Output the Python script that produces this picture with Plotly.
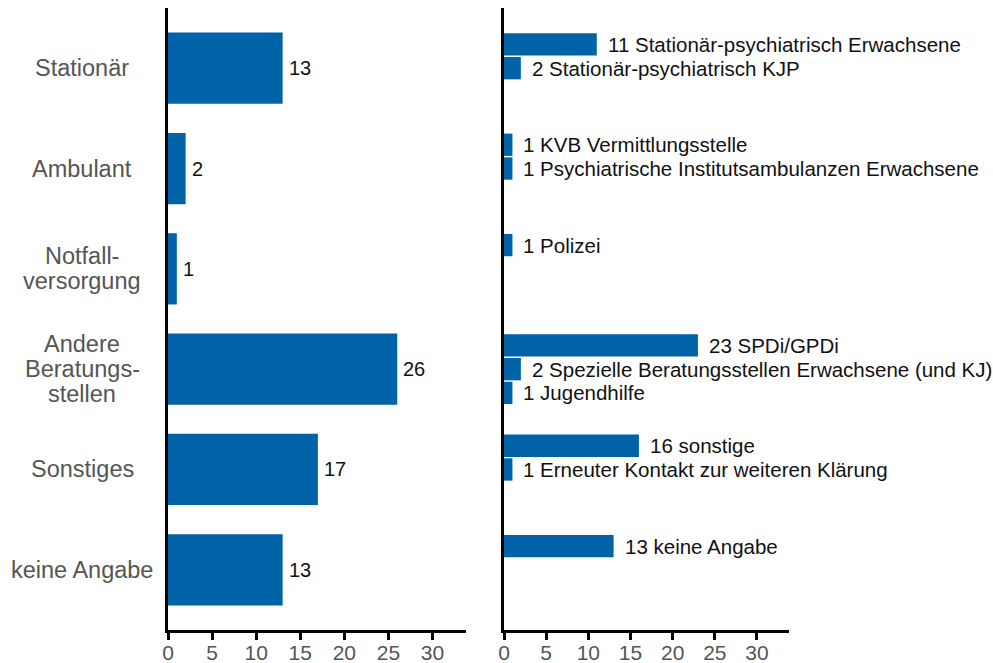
import plotly.graph_objects as go

# main categories (left panel)
categories = ["Stationär", "Ambulant", "Notfall-<br>versorgung",
              "Andere<br>Beratungs-<br>stellen", "Sonstiges", "keine Angabe"]
totals = [13, 2, 1, 26, 17, 13]

# detail bars (right panel), grouped by main category index
sub_group = [0, 0, 1, 1, 2, 3, 3, 3, 4, 4, 5]
sub_labels = [
    "Stationär-psychiatrisch Erwachsene",
    "Stationär-psychiatrisch KJP",
    "KVB Vermittlungsstelle",
    "Psychiatrische Institutsambulanzen Erwachsene",
    "Polizei",
    "SPDi/GPDi",
    "Spezielle Beratungsstellen Erwachsene (und KJ)",
    "Jugendhilfe",
    "sonstige",
    "Erneuter Kontakt zur weiteren Klärung",
    "keine Angabe",
]
sub_values = [11, 2, 1, 1, 1, 23, 2, 1, 16, 1, 13]

BLUE = "#0062a7"
FONT = "Liberation Sans, Arial, sans-serif"
SLOT = 0.71  # share of a category row filled by bars

# position of each detail bar inside its category slot (top third, middle, bottom)
sub_pos = []
seen = {}
for g in sub_group:
    k = seen.get(g, 0)
    seen[g] = k + 1
    sub_pos.append(g - SLOT / 2 + (k + 0.5) * SLOT / 3)

fig = go.Figure()
fig.add_trace(go.Bar(
    x=totals, y=list(range(len(categories))), orientation="h",
    width=SLOT, marker=dict(color=BLUE, line=dict(width=0)),
    xaxis="x", yaxis="y", hoverinfo="skip"
))
fig.add_trace(go.Bar(
    x=sub_values, y=sub_pos, orientation="h",
    width=SLOT / 3 * 0.94, marker=dict(color=BLUE, line=dict(width=0)),
    xaxis="x2", yaxis="y2", hoverinfo="skip"
))

annotations = []
# category labels, one annotation per line for tight line spacing
for i, cat in enumerate(categories):
    lines = cat.split("<br>")
    n = len(lines)
    for j, ln in enumerate(lines):
        annotations.append(dict(
            text=ln, x=82 / 993, xref="paper", xanchor="center",
            y=i, yref="y", yanchor="middle", yshift=((n - 1) / 2 - j) * 25,
            showarrow=False, font=dict(family=FONT, size=23.5, color="#555555")
        ))

for i, v in enumerate(totals):
    annotations.append(dict(
        text=str(v), x=v, xref="x", y=i, yref="y", xanchor="left",
        xshift=4, showarrow=False,
        font=dict(family=FONT, size=20, color="#111111")
    ))

for p, v, lab in zip(sub_pos, sub_values, sub_labels):
    annotations.append(dict(
        text=f"{v} {lab}", x=v, xref="x2", y=p, yref="y2", xanchor="left",
        xshift=9, showarrow=False,
        font=dict(family=FONT, size=20.5, color="#111111")
    ))

xstyle = dict(
    range=[0, 33.8], tickvals=[0, 5, 10, 15, 20, 25, 30],
    showline=True, linecolor="black", linewidth=3,
    ticks="outside", ticklen=7, tickwidth=3, tickcolor="black",
    showgrid=False, zeroline=False, automargin=False,
    ticklabelstandoff=-5,
    tickfont=dict(family=FONT, size=21, color="#555555"),
)
ystyle = dict(
    range=[5.6, -0.6], showline=True, linecolor="black", linewidth=3,
    showticklabels=False, ticks="", showgrid=False, zeroline=False,
    automargin=False,
)

fig.update_layout(
    width=993, height=663,
    margin=dict(l=0, r=0, t=8, b=33, autoexpand=False),
    paper_bgcolor="white", plot_bgcolor="white",
    showlegend=False,
    xaxis=dict(domain=[168 / 993, 466 / 993], anchor="y", **xstyle),
    yaxis=dict(domain=[0, 1], anchor="x", **ystyle),
    xaxis2=dict(domain=[504 / 993, 789 / 993], anchor="y2", **xstyle),
    yaxis2=dict(domain=[0, 1], anchor="x2", **ystyle),
    annotations=annotations,
    barmode="overlay",
)

# drop the browser's default page margin so the figure sits at the top-left corner
fig.write_html("out.html", config={"displayModeBar": False},
               post_script="document.body.style.margin='0';")
